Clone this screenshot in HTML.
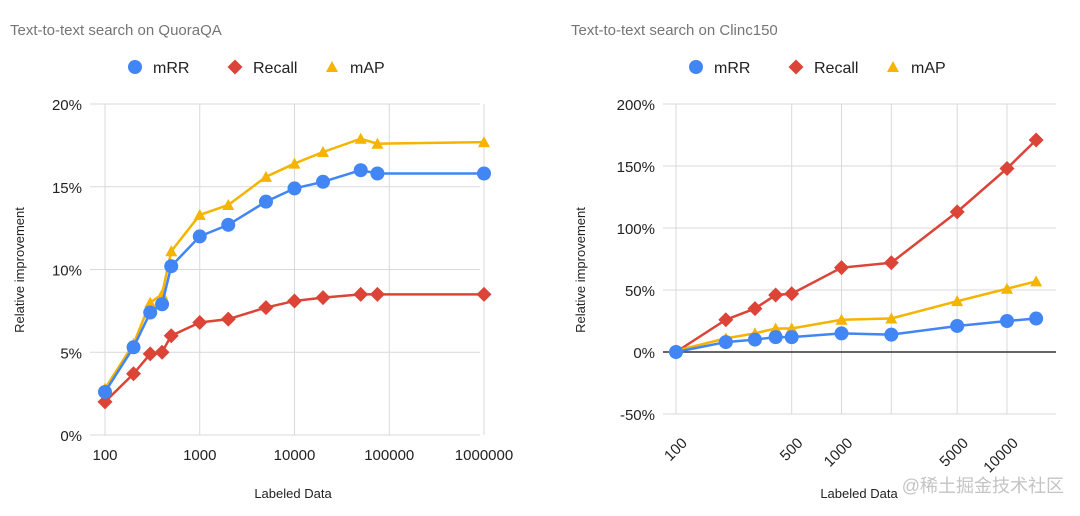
<!DOCTYPE html>
<html><head><meta charset="utf-8"><style>
body{margin:0;background:#fff;width:1080px;height:511px;overflow:hidden;font-family:"Liberation Sans",Arial,sans-serif}
svg text{font-family:"Liberation Sans",Arial,sans-serif}
</style></head><body>
<svg id="s" width="1080" height="511">
<text x="10" y="35" font-size="15" fill="#757575">Text-to-text search on QuoraQA</text>
<text x="571" y="35" font-size="15" fill="#757575">Text-to-text search on Clinc150</text>
<text x="1064" y="492" font-size="18" fill="#c4c4c4" text-anchor="end" font-family="'Liberation Sans','Noto Sans CJK SC',sans-serif">@稀土掘金技术社区</text>
</svg>
<script>
const leftX=[100,200,300,400,500,1000,2000,5000,10000,20000,50000,75000,1000000];
const leftMRR=[2.6,5.3,7.4,7.9,10.2,12.0,12.7,14.1,14.9,15.3,16.0,15.8,15.8];
const leftRecall=[2.0,3.7,4.9,5.0,6.0,6.8,7.0,7.7,8.1,8.3,8.5,8.5,8.5];
const leftMAP=[2.8,5.5,8.0,8.5,11.1,13.3,13.9,15.6,16.4,17.1,17.9,17.6,17.7];
const leftYTicks=[0,5,10,15,20];
const leftXTicks=[100,1000,10000,100000,1000000];
const rightX=[100,200,300,400,500,1000,2000,5000,10000,15000];
const rightMRR=[0,8,10,12,12,15,14,21,25,27];
const rightRecall=[0,26,35,46,47,68,72,113,148,171];
const rightMAP=[1,11,15,19,19,26,27,41,51,57];
const rightYTicks=[-50,0,50,100,150,200];
const rightXTicks=[100,500,1000,2000,5000,10000];
const rightXLabels=["100","500","1000","","5000","10000"];
const NS="http://www.w3.org/2000/svg";
const svg=document.getElementById('s');
const C={mRR:"#4285f4",Recall:"#db4437",mAP:"#f4b400"};
function mk(t,a,p){const e=document.createElementNS(NS,t);for(const k in a)e.setAttribute(k,a[k]);(p||svg).appendChild(e);return e;}
function marker(type,x,y,name){let e;
 if(type==='mRR'){e=mk('circle',{cx:x,cy:y,r:7,fill:C.mRR});}
 else if(type==='Recall'){const s=7.5;e=mk('polygon',{points:`${x},${y-s} ${x+s},${y} ${x},${y+s} ${x-s},${y}`,fill:C.Recall});}
 else {e=mk('polygon',{points:`${x},${y-6} ${x+6},${y+5} ${x-6},${y+5}`,fill:C.mAP});}
 
 
 return e;}
function legend(x0){
 const items=[['mRR',x0],['Recall',x0+100],['mAP',x0+197]];
 items.forEach(([n,x])=>{marker(n,x,67,'legend-marker-'+n.toLowerCase());
  const t=mk('text',{x:x+18,y:73,'font-size':16,fill:'#222'});t.textContent=n;
  
  });
}
function chart(o){
 const sx=v=>o.x0+(Math.log10(v)-Math.log10(o.xmin))/(Math.log10(o.xmax)-Math.log10(o.xmin))*(o.x1-o.x0);
 const sy=v=>o.y0+(v-o.ymin)/(o.ymax-o.ymin)*(o.y1-o.y0);
 o.xTicks.forEach((v,i)=>{const l=mk('line',{x1:sx(v),x2:sx(v),y1:sy(o.ymax),y2:sy(o.ymin),stroke:'#d9d9d9'});
  
  
  const lab=o.xLabels?o.xLabels[i]:String(v);
  let t;
  if(o.rot){const ax=sx(v)+12,ay=sy(o.ymin)+30;t=mk('text',{x:ax,y:ay,'font-size':15,fill:'#222','text-anchor':'end',transform:`rotate(-45 ${ax} ${ay})`});}
  else t=mk('text',{x:sx(v),y:sy(o.ymin)+25,'font-size':15,fill:'#222','text-anchor':'middle'});
  t.textContent=lab;
  
  });
 o.yTicks.forEach(v=>{const dark=(v===0&&o.darkZero);const l=mk('line',{x1:o.gl,x2:o.gr,y1:sy(v),y2:sy(v),stroke:dark?'#333':'#d9d9d9','stroke-width':dark?1.5:1});
  
  
  const t=mk('text',{x:o.gl-8,y:sy(v)+6,'font-size':15,fill:'#222','text-anchor':'end'});t.textContent=v+'%';
  
  });
 const xt=mk('text',{x:o.xtx,y:498,'font-size':13,fill:'#222','text-anchor':'middle'});xt.textContent='Labeled Data';
 
 
 const yt=mk('text',{x:o.ytx,y:270,'font-size':13,fill:'#222','text-anchor':'middle',transform:`rotate(-90 ${o.ytx} 270)`});yt.textContent='Relative improvement';
 
 
 [['Recall',o.recall],['mAP',o.map],['mRR',o.mrr]].forEach(([n,d])=>{
  const pl=mk('polyline',{points:d.map((v,i)=>sx(o.xs[i])+','+sy(v)).join(' '),fill:'none',stroke:C[n],'stroke-width':2.5});
  
  
  d.forEach((v,i)=>marker(n,sx(o.xs[i]),sy(v),'point-'+n.toLowerCase()));
 });
}
chart({x0:105,x1:484,xmin:100,xmax:1000000,y0:435,y1:104,ymin:0,ymax:20,gl:90,gr:480,xs:leftX,mrr:leftMRR,recall:leftRecall,map:leftMAP,yTicks:leftYTicks,xTicks:leftXTicks,xtx:293,ytx:24,darkZero:false});
chart({x0:676,x1:1007,xmin:100,xmax:10000,y0:414,y1:104,ymin:-50,ymax:200,gl:663,gr:1056,xs:rightX,mrr:rightMRR,recall:rightRecall,map:rightMAP,yTicks:rightYTicks,xTicks:rightXTicks,xLabels:rightXLabels,rot:true,xtx:859,ytx:585,darkZero:true});
legend(135);legend(696);
</script>
</body></html>
